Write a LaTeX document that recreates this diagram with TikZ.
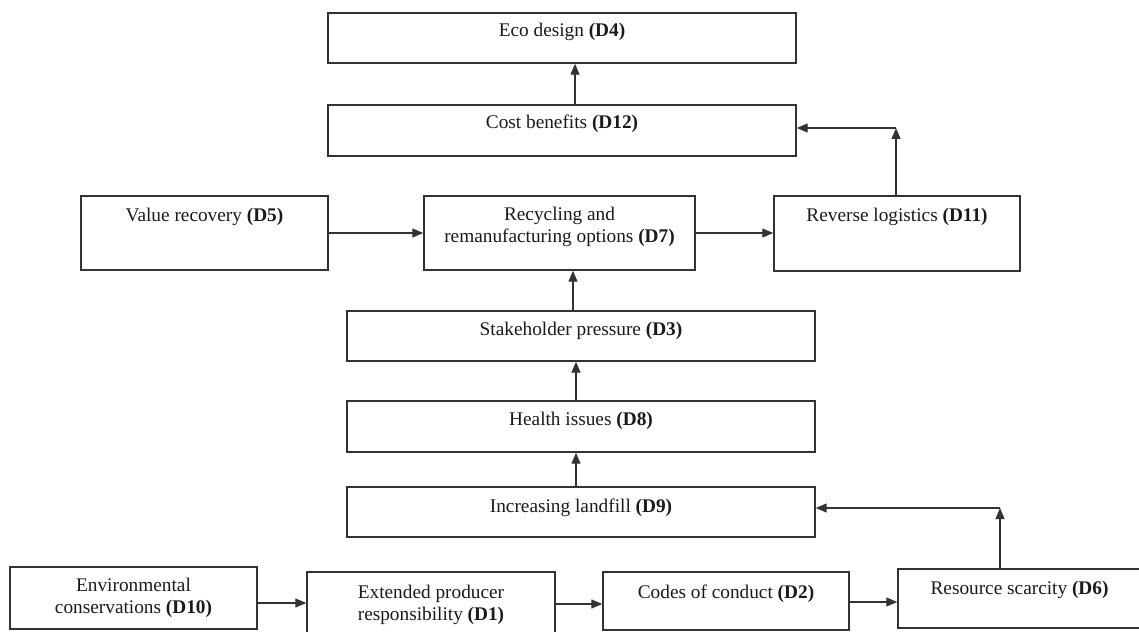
\documentclass[tikz,border=0pt]{standalone}
\usepackage{fontspec}
\setmainfont{Liberation Serif}
\usetikzlibrary{arrows.meta}
\definecolor{linec}{HTML}{333333}
\definecolor{txtc}{HTML}{1A1A1A}
\begin{document}
\begin{tikzpicture}[x=1pt,y=-1pt,
  box/.style={draw=linec, line width=1.4pt, inner sep=0pt, fill=none},
  lbl/.style={inner sep=0pt, text=txtc, font=\fontsize{19.3}{22}\selectfont, anchor=base},
  lbl2/.style={inner sep=0pt, text=txtc, font=\fontsize{19.3}{22}\selectfont, align=center, anchor=center},
  arr/.style={draw=linec, line width=1.2pt, -{Triangle[length=11pt,width=9pt]}},
  ln/.style={draw=linec, line width=1.2pt}]
\useasboundingbox (0,0) rectangle (1139,631);
\fill[white] (0,0) rectangle (1139,631);

% boxes
\node[box, minimum width=468pt, minimum height=50pt] (d4) at (562,38) {};
\node[box, minimum width=468pt, minimum height=51pt] (d12) at (562,130.5) {};
\node[box, minimum width=247pt, minimum height=74pt] (d5) at (204.5,233) {};
\node[box, minimum width=271pt, minimum height=74pt] (d7) at (559.5,233) {};
\node[box, minimum width=246pt, minimum height=75pt] (d11) at (897,233.5) {};
\node[box, minimum width=468pt, minimum height=50pt] (d3) at (581,336) {};
\node[box, minimum width=468pt, minimum height=51pt] (d8) at (581,426.5) {};
\node[box, minimum width=468pt, minimum height=50pt] (d9) at (581,512) {};
\node[box, minimum width=247pt, minimum height=62pt] (d10) at (133.5,598) {};
\node[box, minimum width=248pt, minimum height=62pt] (d1) at (431,603) {};
\node[box, minimum width=246pt, minimum height=58pt] (d2) at (726,601) {};
\node[box, minimum width=243pt, minimum height=59pt] (d6) at (1019.5,598.5) {};

% labels
\node[lbl] (t4) at (562,37) {Eco design \textbf{(D4)}};
\node[lbl] (t12) at (562,129) {Cost benefits \textbf{(D12)}};
\node[lbl] (t5) at (204.5,221) {Value recovery \textbf{(D5)}};
\node[lbl2] (t7) at (559.5,226.5) {Recycling and\\remanufacturing options \textbf{(D7)}};
\node[lbl] (t11) at (897,221) {Reverse logistics \textbf{(D11)}};
\node[lbl] (t3) at (581,335) {Stakeholder pressure \textbf{(D3)}};
\node[lbl] (t8) at (581,425) {Health issues \textbf{(D8)}};
\node[lbl] (t9) at (581,512) {Increasing landfill \textbf{(D9)}};
\node[lbl2] (t10) at (133.5,597.5) {Environmental\\conservations \textbf{(D10)}};
\node[lbl2] (t1) at (431,604.5) {Extended producer\\responsibility \textbf{(D1)}};
\node[lbl] (t2) at (726,598) {Codes of conduct \textbf{(D2)}};
\node[lbl] (t6) at (1019.5,594) {Resource scarcity \textbf{(D6)}};

% helper coordinates for elbow connectors and rows
\coordinate (k1) at (896,128);
\coordinate (k2) at (1000,508);
\coordinate (r1) at (0,603);
\coordinate (r2) at (0,604);
\coordinate (r3) at (0,602);

% connectors
\draw[arr] ([xshift=13pt]d12.north) -- ([xshift=13pt]d12.north |- d4.south);
\draw[arr] ([xshift=-8pt]d3.north) -- ([xshift=-8pt]d3.north |- d7.south);
\draw[arr] ([xshift=-5pt]d8.north) -- ([xshift=-5pt]d8.north |- d3.south);
\draw[arr] ([xshift=-5pt]d9.north) -- ([xshift=-5pt]d9.north |- d8.south);
\draw[arr] (d5.east) -- (d5.east -| d7.west);
\draw[arr] (d7.east) -- (d7.east -| d11.west);
\draw[arr] (d11.north -| k1) -- (k1);
\draw[arr] (k1) -- (k1 -| d12.east);
\draw[arr] (d6.north -| k2) -- (k2);
\draw[arr] (k2) -- (k2 -| d9.east);
\draw[arr] (d10.east |- r1) -- (d1.west |- r1);
\draw[arr] (d1.east |- r2) -- (d2.west |- r2);
\draw[arr] (d2.east |- r3) -- (d6.west |- r3);
\end{tikzpicture}
\end{document}
